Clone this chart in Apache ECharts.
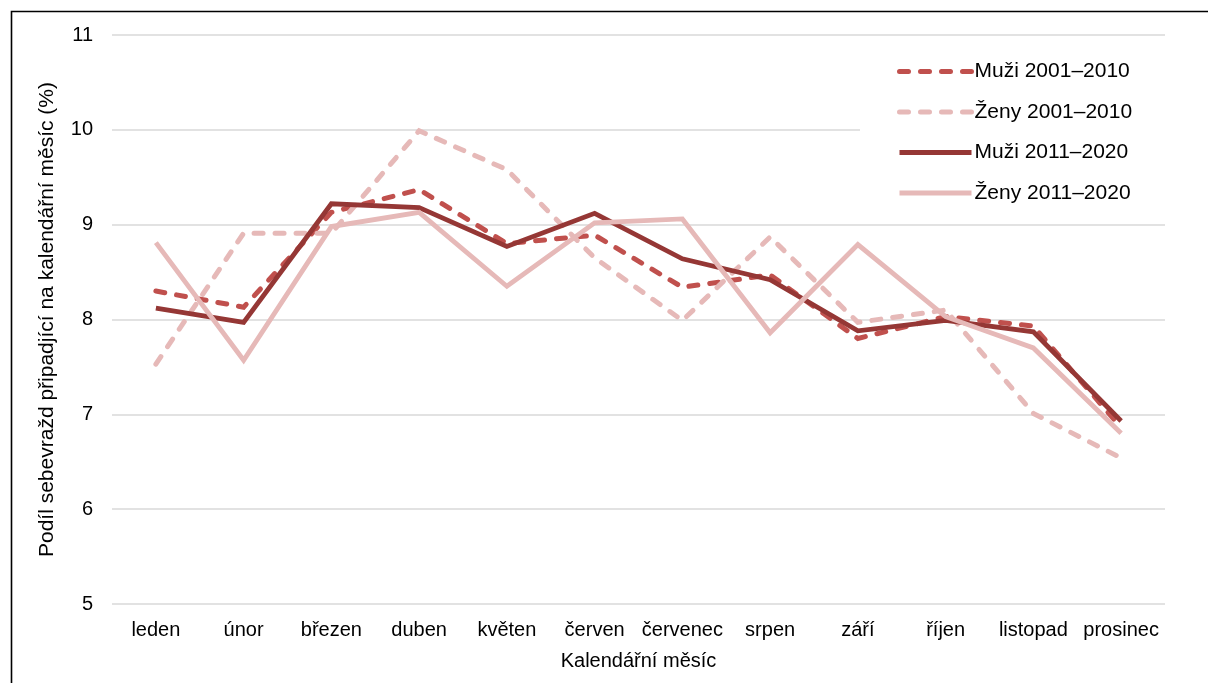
<!DOCTYPE html>
<html>
<head>
<meta charset="utf-8">
<script src="https://cdn.jsdelivr.net/npm/echarts@6/dist/echarts.min.js"></script>
<style>
  html, body { margin: 0; padding: 0; background: #fff; }
  #chart { width: 1208px; height: 683px; }
</style>
</head>
<body>
<div id="chart"></div>
<script>
// měsíce
const months = ['leden', 'únor', 'březen', 'duben', 'květen', 'červen', 'červenec', 'srpen', 'září', 'říjen', 'listopad', 'prosinec']

// podíly (%)
const muzi2001 = [8.30, 8.13, 9.13, 9.37, 8.80, 8.89, 8.34, 8.47, 7.80, 8.03, 7.93, 6.86]
const zeny2001 = [7.53, 8.91, 8.91, 9.99, 9.58, 8.65, 7.99, 8.87, 7.97, 8.10, 7.01, 6.54]
const muzi2011 = [8.12, 7.97, 9.22, 9.18, 8.77, 9.12, 8.64, 8.42, 7.88, 7.99, 7.87, 6.93]
const zeny2011 = [8.81, 7.57, 8.98, 9.13, 8.35, 9.02, 9.06, 7.86, 8.79, 8.03, 7.70, 6.80]

const font = 'Liberation Sans, Arial, sans-serif'

const chart = echarts.init(document.getElementById('chart'))

const makeLine = (name, data, color, width, dashed) => ({
  name,
  type: 'line',
  data,
  symbol: 'none',
  silent: true,
  lineStyle: {
    color,
    width,
    type: dashed ? [9, 12] : 'solid',
    cap: dashed ? 'round' : 'butt',
    join: 'miter'
  },
  itemStyle: { color }
})

const option = {
  animation: false,
  backgroundColor: '#fff',
  textStyle: { fontFamily: font },
  graphic: [
    {
      type: 'rect',
      left: 9,
      top: 9,
      shape: { width: 1220, height: 700 },
      style: { fill: 'none', stroke: '#000', lineWidth: 1.6 },
      z: 100
    }
  ],
  grid: {
    left: 112,
    right: 43,
    top: 35,
    bottom: 79
  },
  legend: {
    orient: 'vertical',
    left: 860,
    top: 47,
    padding: [14, 36, 14, 37],
    backgroundColor: '#fff',
    itemWidth: 72,
    itemHeight: 14,
    itemGap: 19.5,
    lineStyle: { width: 5 },
    itemStyle: { opacity: 0 },
    textStyle: { fontSize: 21, color: '#000', fontFamily: font, padding: [0, 0, 0, -2] },
    data: ['Muži 2001–2010', 'Ženy 2001–2010', 'Muži 2011–2020', 'Ženy 2011–2020']
  },
  xAxis: {
    type: 'category',
    data: months,
    boundaryGap: true,
    name: 'Kalendářní měsíc',
    nameLocation: 'middle',
    nameGap: 47,
    nameTextStyle: { fontSize: 20, color: '#000', fontFamily: font },
    axisLine: { show: false },
    axisTick: { show: false },
    axisLabel: { fontSize: 20, color: '#000', margin: 16, fontFamily: font, interval: 0 }
  },
  yAxis: {
    type: 'value',
    min: 5,
    max: 11,
    interval: 1,
    name: 'Podíl sebevražd připadjící na kalendářní měsíc (%)',
    nameLocation: 'middle',
    nameGap: 54,
    nameTextStyle: { fontSize: 21, color: '#000', fontFamily: font },
    axisLine: { show: false },
    axisTick: { show: false },
    axisLabel: { fontSize: 20, color: '#000', margin: 19, fontFamily: font },
    splitLine: { lineStyle: { color: '#d9d9d9', width: 1.5 } }
  },
  series: [
    makeLine('Muži 2001–2010', muzi2001, '#c0504d', 5, true),
    makeLine('Ženy 2001–2010', zeny2001, '#e6b9b8', 5, true),
    makeLine('Muži 2011–2020', muzi2011, '#953735', 4.8, false),
    makeLine('Ženy 2011–2020', zeny2011, '#e6b9b8', 4.8, false)
  ]
}

chart.setOption(option)
</script>
</body>
</html>
